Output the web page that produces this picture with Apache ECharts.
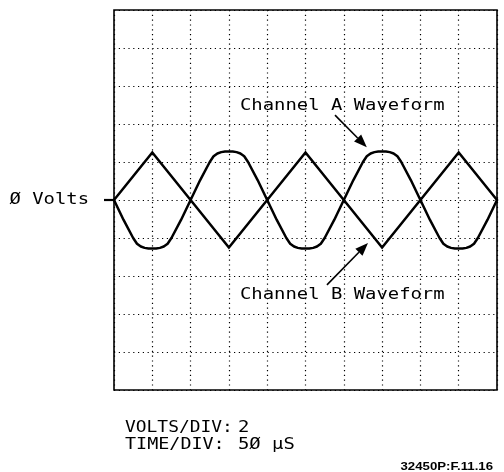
<!DOCTYPE html>
<html>
<head>
<meta charset="utf-8">
<script src="https://cdn.jsdelivr.net/npm/echarts@6/dist/echarts.min.js"></script>
<style>
  html, body { margin: 0; padding: 0; background: #fff; }
  #chart { width: 504px; height: 472px; }
</style>
</head>
<body>
<div id="chart"></div>
<script>
// Time axis in microseconds (50 µs per division, 10 divisions)
const timeA = [
  0, 12.5, 25, 30, 35, 40, 45, 50, 55, 60, 65, 70, 75, 87.5,
  100, 112.5, 125, 130, 135, 140, 145, 150, 155, 160, 165, 170, 175, 187.5,
  200, 212.5, 225, 230, 235, 240, 245, 250, 255, 260, 265, 270, 275, 287.5,
  300, 312.5, 325, 330, 335, 340, 345, 350, 355, 360, 365, 370, 375, 387.5,
  400, 412.5, 425, 430, 435, 440, 445, 450, 455, 460, 465, 470, 475, 487.5,
  500
];
// Channel A: rounded (soft-limited) waveform, volts
const channelA = [
  0, -1.05, -2.0, -2.3, -2.45, -2.52, -2.55, -2.55, -2.55, -2.52, -2.45, -2.3, -2.0, -1.05,
  0, 1.05, 2.0, 2.3, 2.45, 2.52, 2.55, 2.55, 2.55, 2.52, 2.45, 2.3, 2.0, 1.05,
  0, -1.05, -2.0, -2.3, -2.45, -2.52, -2.55, -2.55, -2.55, -2.52, -2.45, -2.3, -2.0, -1.05,
  0, 1.05, 2.0, 2.3, 2.45, 2.52, 2.55, 2.55, 2.55, 2.52, 2.45, 2.3, 2.0, 1.05,
  0, -1.05, -2.0, -2.3, -2.45, -2.52, -2.55, -2.55, -2.55, -2.52, -2.45, -2.3, -2.0, -1.05,
  0
];
// Channel B: triangle waveform, volts
const timeB = [0, 50, 100, 150, 200, 250, 300, 350, 400, 450, 500];
const channelB = [0, 2.5, 0, -2.5, 0, 2.5, 0, -2.5, 0, 2.5, 0];

// Screen settings and annotation text
const zeroLabel = 'Ø Volts';
const labelA = 'Channel A Waveform';
const labelB = 'Channel B Waveform';
const voltsDivLabel = 'VOLTS/DIV:';
const voltsDivValue = '2';
const timeDivLabel = 'TIME/DIV:';
const timeDivValue = '5Ø µS';
const figureId = '32450P:F.11.16';

// Annotation anchors in data units [µs, V]
const arrowA = [[288.5, 4.47], [330, 2.78]];
const arrowB = [[278, -4.47], [331.6, -2.26]];
const labelAPos = [164.5, 5.0];
const labelBPos = [164.5, -5.0];

const chart = echarts.init(document.getElementById('chart'), null, { renderer: 'canvas' });

const dotted = { color: '#000', width: 1.2, type: [1.2, 3.6] };

chart.setOption({
  animation: false,
  backgroundColor: '#fff',
  grid: {
    left: 114, right: 7, top: 10, bottom: 82,
    show: true, borderColor: '#000', borderWidth: 1.6, backgroundColor: 'transparent'
  },
  xAxis: {
    type: 'value', min: 0, max: 500, interval: 50,
    axisLine: { show: false }, axisTick: { show: false }, axisLabel: { show: false },
    splitLine: { show: true, lineStyle: dotted }
  },
  yAxis: {
    type: 'value', min: -10, max: 10, interval: 2,
    axisLine: { show: false }, axisTick: { show: false }, axisLabel: { show: false },
    splitLine: { show: true, lineStyle: dotted }
  },
  series: [
    {
      name: 'Channel A', type: 'line', showSymbol: false,
      data: timeA.map((t, i) => [t, channelA[i]]),
      lineStyle: { color: '#000', width: 2.5, join: 'round', cap: 'round' },
      z: 3
    },
    {
      name: 'Channel B', type: 'line', showSymbol: false,
      data: timeB.map((t, i) => [t, channelB[i]]),
      lineStyle: { color: '#000', width: 2.5, join: 'miter', cap: 'round' },
      z: 3
    }
  ]
});

function px(p) { return chart.convertToPixel({ gridIndex: 0 }, p); }

function arrow(seg) {
  const a = px(seg[0]);
  const b = px(seg[1]);
  const dx = b[0] - a[0], dy = b[1] - a[1];
  const len = Math.hypot(dx, dy);
  const ux = dx / len, uy = dy / len;
  const headL = 13, headW = 5;
  const bx = b[0] - ux * headL, by = b[1] - uy * headL;
  return [
    { type: 'line', shape: { x1: a[0], y1: a[1], x2: bx, y2: by },
      style: { stroke: '#000', lineWidth: 1.6 }, z: 10 },
    { type: 'polygon',
      shape: { points: [[b[0], b[1]], [bx - uy * headW, by + ux * headW], [bx + uy * headW, by - ux * headW]] },
      style: { fill: '#000' }, z: 10 }
  ];
}

const mono = '16px "DejaVu Sans Mono"';
function text(str, x, y, opts) {
  return Object.assign({
    type: 'text', x: x, y: y, scaleX: 1.18,
    style: { text: str, font: mono, fill: '#000', textAlign: 'left', textVerticalAlign: 'middle' },
    z: 10
  }, opts || {});
}

const origin = px([0, 0]);
const pA = px(labelAPos);
const pB = px(labelBPos);

chart.setOption({
  graphic: [
    // zero-volt reference marker on the left edge
    { type: 'line', shape: { x1: origin[0] - 10, y1: origin[1], x2: origin[0], y2: origin[1] },
      style: { stroke: '#000', lineWidth: 2.2 }, z: 10 },
    text(zeroLabel, origin[0] - 25, origin[1], {
      style: { text: zeroLabel, font: mono, fill: '#000', textAlign: 'right', textVerticalAlign: 'middle' }
    }),
    text(labelA, pA[0], pA[1] + 1),
    text(labelB, pB[0], pB[1]),
    ...arrow(arrowA),
    ...arrow(arrowB),
    text(voltsDivLabel, 125, 428, { scaleX: 1.12 }),
    text(voltsDivValue, 238, 428),
    text(timeDivLabel, 125, 445, { scaleX: 1.15 }),
    text(timeDivValue, 238, 445),
    { type: 'text', x: 493, y: 467, scaleX: 1.2,
      style: { text: figureId, font: 'bold 11px "Liberation Sans"', fill: '#000',
               textAlign: 'right', textVerticalAlign: 'middle' }, z: 10 }
  ]
});
</script>
</body>
</html>
